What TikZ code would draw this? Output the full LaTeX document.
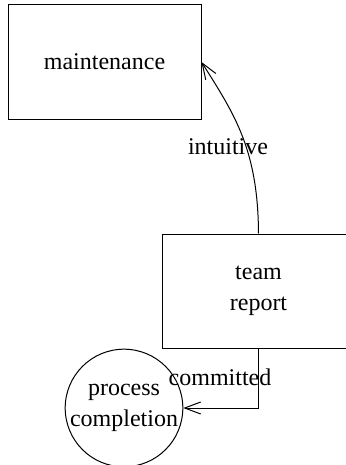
\documentclass[tikz,border=0pt]{standalone}
\usepackage{fontspec}
\setmainfont{Liberation Serif}
\usetikzlibrary{arrows.meta}
\begin{document}
\begin{tikzpicture}[x=0.5pt,y=-0.5pt,
  every node/.style={font=\fontsize{12}{15.5}\selectfont, align=center},
  boxnode/.style={draw, line width=0.5pt, minimum width=96.5pt, minimum height=57pt, inner sep=0pt},
  circnode/.style={draw, circle, line width=0.5pt, minimum size=58pt, inner sep=0pt},
  conn/.style={line width=0.5pt, -{Straight Barb[length=8pt,width=6pt]}},
  lbl/.style={inner sep=0pt}]
\useasboundingbox (0,0) rectangle (345,465);
\node[boxnode] (maint) at (104.5,62) {maintenance};
\node[boxnode] (team) at (258.5,291) {team\\report};
\node[circnode] (proc) at (124,408) {process\\completion};
\draw[conn] (team.north) .. controls (258,150) and (235,115) .. (maint.east);
\node[lbl] (l1) at (228,147) {intuitive};
\draw[conn] (team.south) |- (proc.east);
\node[lbl] (l2) at (220,377) {committed};
\end{tikzpicture}
\end{document}
